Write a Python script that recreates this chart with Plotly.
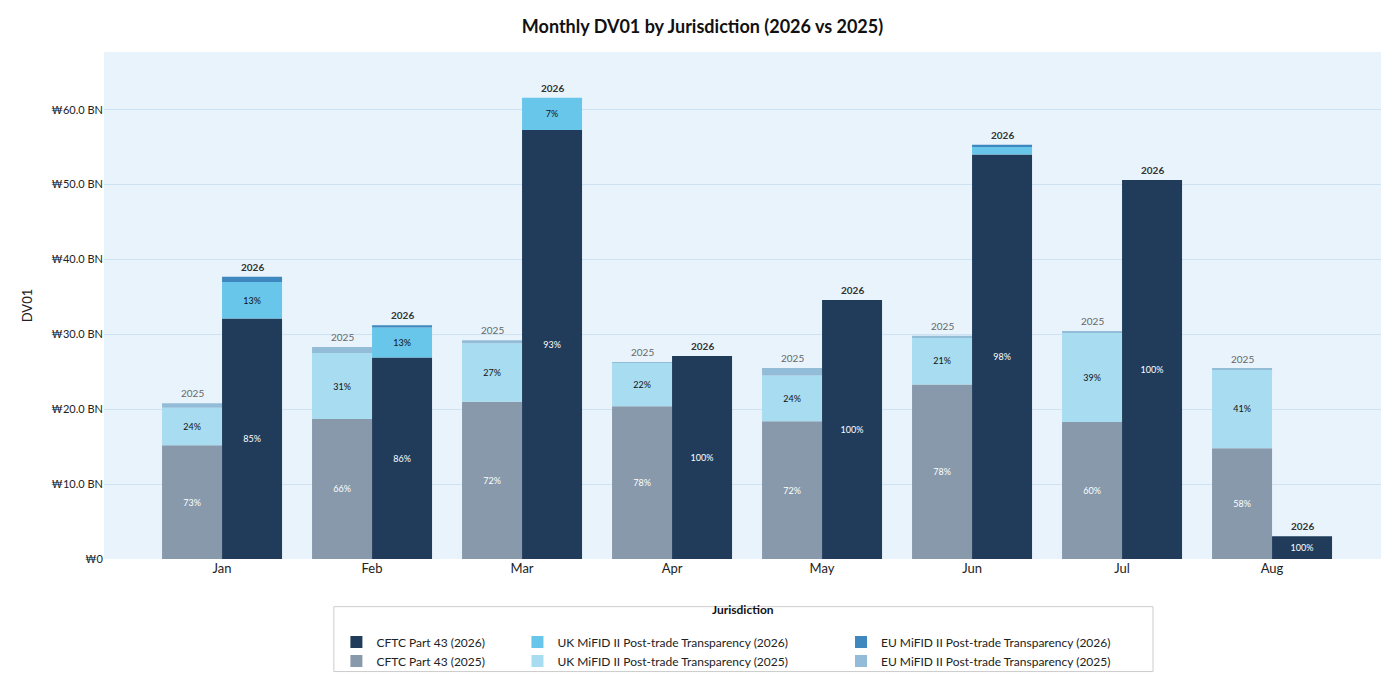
import plotly.graph_objects as go

months = ["Jan", "Feb", "Mar", "Apr", "May", "Jun", "Jul", "Aug"]
cftc_2025 = [15.2, 18.7, 21.0, 20.4, 18.4, 23.3, 18.3, 14.8]
uk_2025 = [5.0, 8.8, 7.8, 5.8, 6.1, 6.3, 11.9, 10.5]
eu_2025 = [0.6, 0.8, 0.4, 0.05, 1.0, 0.2, 0.2, 0.1]
cftc_2026 = [32.1, 26.9, 57.3, 27.1, 34.6, 54.0, 50.6, 3.05]
uk_2026 = [4.9, 4.0, 4.3, 0.0, 0.0, 1.1, 0.0, 0.0]
eu_2026 = [0.7, 0.3, 0.0, 0.0, 0.0, 0.2, 0.0, 0.0]

FONT = "Lato"
fig = go.Figure()
legends = {"CFTC": "legend", "UK": "legend2", "EU": "legend3"}

def add_year(series, offset, rank):
    base = [0.0] * len(months)
    tot = [sum(v) for v in zip(*[s[2] for s in series])]
    for key, name, vals, color, tcol in series:
        texts = []
        for v, t in zip(vals, tot):
            p = v / t * 100 if t else 0
            texts.append(f"{p:.0f}%" if p >= 5 else "")
        fig.add_trace(go.Bar(
            x=months, y=vals, base=base[:], offset=offset, width=0.4,
            name=name, marker=dict(color=color, line=dict(width=0)),
            text=texts, textposition="inside", insidetextanchor="middle",
            textangle=0, textfont=dict(color=tcol, size=9, family=FONT),
            legend=legends[key], legendrank=rank,
            hovertemplate="%{x}: %{y}<extra></extra>"))
        base = [b + v for b, v in zip(base, vals)]
    return tot

t25 = add_year([
    ("CFTC", "CFTC Part 43 (2025)", cftc_2025, "#8799aa", "white"),
    ("UK", "UK MiFID II Post-trade Transparency (2025)", uk_2025, "#a8dcf1", "#111111"),
    ("EU", "EU MiFID II Post-trade Transparency (2025)", eu_2025, "#93bcd9", "#111111"),
], -0.4, 2)
t26 = add_year([
    ("CFTC", "CFTC Part 43 (2026)", cftc_2026, "#213c5b", "white"),
    ("UK", "UK MiFID II Post-trade Transparency (2026)", uk_2026, "#68c6ea", "#111111"),
    ("EU", "EU MiFID II Post-trade Transparency (2026)", eu_2026, "#3f88bf", "#111111"),
], 0.0, 1)

for i, m in enumerate(months):
    fig.add_annotation(x=i - 0.2, y=t25[i], text="2025", showarrow=False, yshift=10,
                       font=dict(size=10, color="#666666", family=FONT))
    fig.add_annotation(x=i + 0.2, y=t26[i], text="<b>2026</b>", showarrow=False, yshift=10,
                       font=dict(size=10, color="#333333", family=FONT))

# legend frame + title
fig.add_shape(type="rect", xref="paper", yref="paper", x0=0.179, x1=0.817, y0=-0.222, y1=-0.094,
              line=dict(color="#cccccc", width=1), fillcolor="white", layer="below")
fig.add_annotation(xref="paper", yref="paper", x=0.498, y=-0.118, text="<b>Jurisdiction</b>",
                   showarrow=False, font=dict(size=12, color="#111111", family=FONT))

leg_common = dict(orientation="v", yanchor="top", y=-0.135, xanchor="left",
                  font=dict(size=12), bgcolor="rgba(0,0,0,0)", tracegroupgap=0,
                  traceorder="normal")

fig.update_layout(
    width=1389, height=677, barmode="overlay",
    paper_bgcolor="white", plot_bgcolor="#e9f3fc",
    margin=dict(l=96, r=9, t=44, b=123),
    title=dict(text="<b>Monthly DV01 by Jurisdiction (2026 vs 2025)</b>", x=0.5, xanchor="center",
               y=0.973, yanchor="middle", font=dict(size=18, color="#111111", family=FONT)),
    font=dict(family=FONT, color="#222222"),
    xaxis=dict(type="category", tickfont=dict(size=13), showgrid=False, ticks="",
               range=[-0.787, 7.773]),
    yaxis=dict(title=dict(text="DV01", font=dict(size=13)), range=[0, 67.7],
               tickvals=[0, 10, 20, 30, 40, 50, 60],
               ticktext=["₩0", "₩10.0 BN", "₩20.0 BN", "₩30.0 BN", "₩40.0 BN", "₩50.0 BN", "₩60.0 BN"],
               gridcolor="#cde3f3", zeroline=False, tickfont=dict(size=11)),
    legend=dict(x=0.181, **leg_common),
    legend2=dict(x=0.322, **leg_common),
    legend3=dict(x=0.574, **leg_common),
)
fig.write_html("out.html")
